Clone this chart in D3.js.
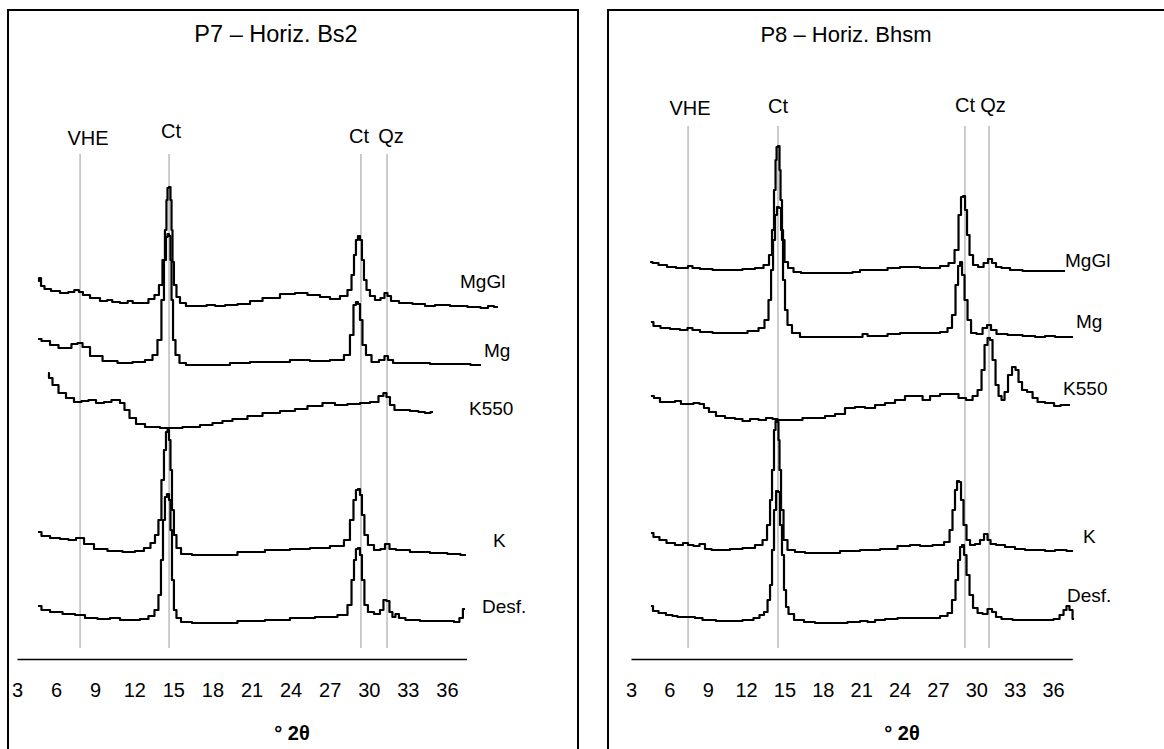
<!DOCTYPE html>
<html>
<head>
<meta charset="utf-8">
<script src="https://cdn.jsdelivr.net/npm/d3@7"></script>
<style>
  body { margin: 0; background: #fff; }
  text { font-family: "Liberation Sans", Arial, sans-serif; fill: #000; }
</style>
</head>
<body>
<div id="chart"></div>
<script>
// 2θ tick labels (same for both diffractograms)
var ticks2theta = [3, 6, 9, 12, 15, 18, 21, 24, 27, 30, 33, 36];
var traceNames = ["MgGl", "Mg", "K550", "K", "Desf."];
var peakNames = ["VHE", "Ct", "Ct", "Qz"];

// P7 - Horiz. Bs2 : [2θ, relative intensity incl. stacking offset]
var p7Peaks = [7.84, 14.67, 29.40, 31.40];
var p7MgGl = [[4.61,75.6],[4.77,76.2],[4.92,74.6],[5.30,74.0],[5.92,73.6],[6.68,73.2],[7.20,73.4],[7.60,73.8],[7.90,73.4],[8.22,72.8],[8.99,72.2],[9.75,71.6],[10.10,71.8],[10.52,71.4],[11.29,71.2],[11.70,71.6],[12.06,71.2],[12.82,71.2],[13.36,72.0],[13.74,72.8],[14.05,74.8],[14.28,79.8],[14.43,85.8],[14.51,91.8],[14.59,94.2],[14.74,94.4],[14.82,91.8],[14.90,85.8],[14.97,79.4],[15.12,74.8],[15.36,72.4],[15.66,71.2],[16.28,70.6],[17.30,70.6],[17.81,70.8],[18.60,70.6],[19.35,70.8],[20.50,71.0],[21.27,71.6],[22.42,72.2],[23.95,73.0],[24.72,73.2],[25.87,72.8],[26.64,72.4],[27.41,72.0],[28.17,72.6],[28.56,73.8],[28.79,76.8],[28.94,80.8],[29.09,83.8],[29.25,84.6],[29.40,83.8],[29.55,79.8],[29.71,75.8],[29.94,73.8],[30.24,72.6],[30.71,71.8],[31.09,72.2],[31.32,73.2],[31.55,72.6],[31.86,71.6],[32.78,71.2],[33.93,71.0],[34.70,70.6],[35.46,70.8],[37.00,70.6],[38.15,70.4],[39.00,70.2],[39.30,70.6],[39.91,70.4]];
var p7Mg = [[4.61,64.0],[5.15,63.6],[5.92,62.8],[6.45,62.2],[6.91,62.2],[7.45,63.0],[7.84,63.2],[8.22,62.4],[8.99,60.6],[10.14,59.6],[11.29,59.2],[12.44,59.4],[13.21,59.8],[13.59,60.8],[13.97,63.8],[14.20,71.8],[14.36,79.8],[14.51,84.4],[14.59,85.0],[14.74,84.6],[14.82,79.8],[14.90,71.8],[15.05,63.8],[15.28,60.8],[15.66,59.2],[16.28,58.8],[18.58,58.8],[20.11,59.2],[21.65,59.4],[23.18,59.4],[24.72,59.8],[26.25,59.6],[27.79,59.8],[28.40,60.8],[28.71,64.8],[28.94,70.8],[29.09,71.4],[29.25,71.0],[29.40,67.8],[29.63,62.8],[29.94,60.8],[30.48,59.4],[31.09,59.8],[31.32,60.6],[31.63,59.8],[32.09,59.2],[33.93,59.2],[35.46,59.0],[37.00,59.0],[38.61,58.8]];
var p7K550 = [[5.38,57.2],[5.53,56.2],[5.92,54.8],[6.45,53.2],[7.07,52.2],[7.68,51.4],[8.22,51.6],[8.76,51.8],[9.37,51.2],[9.98,51.4],[10.52,51.8],[10.75,51.8],[11.06,51.2],[11.44,49.8],[11.83,48.2],[12.44,47.0],[13.21,46.4],[14.74,46.2],[16.66,46.4],[17.43,46.8],[18.58,47.2],[18.96,47.6],[20.11,48.0],[21.27,48.6],[22.42,49.2],[23.95,49.6],[24.72,50.0],[25.87,50.6],[27.02,51.2],[27.79,50.8],[28.94,51.0],[29.71,51.2],[30.48,51.4],[31.01,52.6],[31.24,53.2],[31.47,52.4],[31.78,50.8],[32.16,49.8],[32.78,49.8],[33.54,49.6],[34.08,49.4],[34.54,49.2],[34.93,49.4]];
var p7K = [[4.61,25.4],[5.15,24.6],[5.92,24.2],[6.68,24.0],[7.22,23.8],[7.84,24.2],[8.45,23.0],[9.37,22.0],[10.52,21.6],[11.67,21.4],[12.44,21.6],[13.05,22.2],[13.44,23.2],[13.74,24.8],[13.97,27.8],[14.20,35.8],[14.36,41.8],[14.51,45.4],[14.59,45.8],[14.74,43.8],[14.82,37.8],[14.97,29.8],[15.12,24.8],[15.36,22.2],[15.82,21.0],[17.04,20.8],[18.96,20.8],[20.88,21.4],[23.18,21.8],[24.72,22.0],[26.25,22.2],[27.79,22.6],[28.40,23.8],[28.71,27.8],[28.94,31.8],[29.09,33.8],[29.25,34.0],[29.40,32.8],[29.55,28.8],[29.78,24.8],[30.09,22.8],[30.71,21.8],[31.09,22.0],[31.40,23.0],[31.78,22.0],[32.39,21.8],[33.93,21.4],[35.46,21.2],[36.61,21.0],[37.46,20.8]];
var p7Desf = [[4.61,10.6],[5.15,9.8],[5.92,9.4],[7.07,9.0],[7.84,8.8],[8.60,8.2],[9.75,8.0],[10.52,8.2],[11.29,7.8],[12.06,7.8],[12.82,8.0],[13.36,8.6],[13.74,9.8],[13.97,12.8],[14.13,19.8],[14.28,27.8],[14.43,32.4],[14.59,33.0],[14.74,31.8],[14.82,25.8],[14.97,15.8],[15.12,9.8],[15.36,8.2],[15.82,7.4],[17.04,7.2],[18.96,7.2],[20.88,7.6],[23.18,7.8],[24.72,8.2],[27.02,8.4],[28.17,8.8],[28.56,10.8],[28.79,15.8],[28.94,19.8],[29.09,22.0],[29.25,22.2],[29.40,20.8],[29.55,15.8],[29.78,10.8],[30.09,9.4],[30.71,9.0],[31.01,9.8],[31.24,11.8],[31.47,11.6],[31.70,9.4],[31.93,8.4],[32.16,9.0],[32.47,8.2],[33.16,7.8],[34.70,7.6],[36.23,7.6],[36.84,7.4],[37.07,8.2],[37.38,10.0]];

// P8 - Horiz. Bhsm
var p8Peaks = [7.46, 14.49, 29.11, 30.99];
var p8MgGl = [[4.49,79.4],[4.88,79.2],[5.42,78.8],[6.21,78.4],[6.83,78.2],[7.30,78.2],[7.61,78.6],[8.00,78.2],[8.79,78.0],[9.96,77.8],[11.13,77.8],[12.30,78.0],[13.09,78.2],[13.63,78.8],[13.95,80.8],[14.10,85.8],[14.26,93.8],[14.34,99.8],[14.42,102.4],[14.57,102.6],[14.65,97.8],[14.73,91.8],[14.88,83.8],[15.12,79.4],[15.43,78.2],[15.98,77.4],[16.60,77.2],[18.56,77.2],[20.12,77.2],[20.51,77.4],[21.30,77.8],[22.47,77.8],[23.64,78.2],[24.42,78.4],[25.21,78.4],[25.99,78.2],[26.77,78.2],[27.55,78.6],[28.10,79.2],[28.49,81.8],[28.72,88.8],[28.88,92.4],[29.04,92.6],[29.19,89.8],[29.35,84.8],[29.58,80.8],[29.90,78.8],[30.37,78.4],[30.76,79.2],[31.07,80.0],[31.38,79.2],[31.69,78.4],[32.24,78.2],[33.02,77.8],[34.20,77.6],[35.76,77.6],[36.93,77.6]];
var p8Mg = [[4.56,67.4],[4.95,66.6],[5.66,66.2],[6.44,66.0],[7.22,65.8],[7.61,66.2],[8.00,65.8],[8.79,65.4],[9.96,65.2],[11.52,65.2],[12.70,65.6],[13.24,66.2],[13.63,67.8],[13.87,71.8],[14.03,77.8],[14.18,83.8],[14.34,88.8],[14.49,90.4],[14.65,90.2],[14.81,85.8],[14.96,75.8],[15.12,69.8],[15.35,66.8],[15.82,65.2],[16.60,64.4],[18.17,64.4],[20.90,64.4],[21.30,65.0],[21.69,64.6],[22.47,64.6],[23.64,65.0],[24.42,65.2],[25.60,65.2],[26.77,65.2],[27.55,65.4],[27.94,66.2],[28.25,68.8],[28.49,74.8],[28.65,78.6],[28.80,79.4],[28.96,76.8],[29.19,71.8],[29.43,67.8],[29.74,65.2],[30.29,65.0],[30.68,66.2],[30.99,66.8],[31.30,65.8],[31.85,65.0],[33.02,64.8],[34.20,64.6],[34.98,64.4],[35.76,64.6],[36.54,64.4],[37.56,64.4]];
var p8K550 = [[4.56,52.6],[5.03,52.2],[5.50,51.4],[6.21,51.4],[6.67,51.6],[7.14,51.0],[7.61,51.0],[8.16,51.2],[8.55,51.0],[8.86,50.2],[9.33,49.4],[9.96,48.6],[10.74,48.2],[11.52,48.0],[11.91,47.6],[12.70,48.0],[13.24,47.8],[13.87,48.2],[14.26,48.0],[14.65,47.8],[15.82,47.8],[16.99,48.2],[17.78,48.2],[18.56,48.6],[19.34,49.0],[20.12,50.2],[20.90,50.4],[21.69,50.2],[22.47,50.8],[23.25,51.2],[24.03,51.8],[24.81,52.6],[25.60,52.6],[25.99,51.8],[26.77,52.6],[27.55,53.0],[28.33,53.0],[28.88,52.2],[29.51,51.8],[29.90,52.6],[30.29,53.8],[30.52,57.8],[30.76,62.8],[30.99,64.2],[31.15,63.8],[31.38,59.8],[31.62,54.8],[31.85,52.6],[32.09,51.8],[32.32,53.4],[32.63,56.8],[32.95,58.4],[33.18,57.8],[33.41,55.4],[33.73,53.8],[34.20,53.4],[34.59,52.2],[34.98,51.4],[35.76,51.2],[36.39,50.6],[36.78,50.8],[37.32,50.8]];
var p8K = [[4.56,25.2],[4.95,24.4],[5.50,23.8],[6.05,23.2],[6.83,22.8],[7.30,23.2],[7.61,22.8],[8.16,22.6],[8.55,23.0],[9.02,22.0],[9.57,21.8],[10.35,21.8],[11.13,22.0],[12.30,22.2],[13.09,22.8],[13.48,23.8],[13.79,26.8],[13.95,31.8],[14.10,37.8],[14.26,45.8],[14.34,47.6],[14.49,47.4],[14.57,43.8],[14.65,37.8],[14.81,29.8],[15.04,23.8],[15.43,21.8],[16.21,21.4],[17.00,21.2],[18.56,21.2],[20.12,21.6],[21.69,21.8],[23.25,22.0],[24.42,22.6],[25.21,22.8],[25.99,22.6],[27.16,22.8],[27.79,23.4],[28.02,25.8],[28.25,29.8],[28.41,33.8],[28.57,35.6],[28.72,35.4],[28.88,31.8],[29.11,26.8],[29.35,23.8],[29.66,22.8],[30.13,23.0],[30.44,23.8],[30.76,25.0],[30.99,23.8],[31.23,23.0],[31.85,22.8],[32.63,22.4],[33.41,22.0],[34.20,21.8],[34.98,21.8],[35.76,21.6],[36.54,21.8],[37.56,21.6]];
var p8Desf = [[4.56,10.6],[4.88,9.6],[5.42,9.2],[6.05,8.8],[6.44,8.6],[6.83,8.4],[7.61,8.4],[8.39,8.2],[8.79,7.8],[9.33,7.8],[9.96,7.6],[11.13,7.6],[12.30,7.8],[12.85,8.2],[13.24,8.8],[13.56,9.4],[13.79,11.8],[13.95,14.8],[14.10,21.8],[14.26,29.8],[14.42,33.6],[14.57,33.4],[14.73,26.8],[14.88,20.8],[15.04,13.8],[15.20,10.4],[15.43,9.0],[16.06,7.8],[16.99,7.4],[17.78,7.2],[19.34,7.2],[20.51,7.4],[21.30,7.6],[21.69,7.4],[22.47,7.8],[23.25,8.0],[24.42,8.2],[25.60,8.2],[26.77,8.2],[27.55,8.6],[27.94,9.2],[28.25,11.8],[28.49,15.8],[28.65,19.8],[28.80,22.4],[28.96,22.8],[29.11,20.8],[29.35,16.8],[29.58,12.8],[29.90,10.2],[30.29,9.2],[30.68,9.0],[31.07,10.0],[31.38,9.4],[31.69,8.4],[32.24,8.0],[33.41,7.8],[34.59,7.8],[35.76,7.8],[36.31,8.0],[36.70,8.8],[36.93,9.8],[37.16,10.6],[37.40,9.8],[37.64,8.0]];

var width = 1164, height = 749;
var axisY = 659;

var svg = d3.select("#chart").append("svg")
  .attr("width", width)
  .attr("height", height)
  .style("display", "block");

svg.append("rect").attr("width", width).attr("height", height).attr("fill", "#fff");

// intensity scale shared by both panels
var y = d3.scaleLinear().domain([0, 120]).range([axisY, 59]);

function drawPanel(p) {
  var x = d3.scaleLinear().domain([3, 37.5]).range(p.xRange);
  var g = svg.append("g");

  // frame
  g.append("rect")
    .attr("x", p.box[0]).attr("y", 10)
    .attr("width", p.box[1]).attr("height", 800)
    .attr("fill", "none").attr("stroke", "#000").attr("stroke-width", 2);

  g.append("text")
    .attr("x", p.titleX).attr("y", 42)
    .attr("text-anchor", "middle")
    .style("font-size", p.titleSize + "px")
    .text(p.title);

  // reference lines for the minerals
  g.selectAll(".ref").data(p.peaks).enter().append("line")
    .attr("class", "ref")
    .attr("x1", function (d) { return x(d); })
    .attr("x2", function (d) { return x(d); })
    .attr("y1", p.refTop).attr("y2", 648)
    .attr("stroke", "#999").attr("stroke-width", 1);

  g.selectAll(".refl").data(p.peaks).enter().append("text")
    .attr("class", "refl")
    .attr("x", function (d, i) { return x(d) + p.refDx[i]; })
    .attr("y", function (d, i) { return p.refTop - p.refDy[i]; })
    .attr("text-anchor", "middle")
    .style("font-size", "20px")
    .text(function (d, i) { return peakNames[i]; });

  // digitised diffractograms look stepped
  var line = d3.line()
    .curve(d3.curveStep)
    .x(function (d) { return x(d[0]); })
    .y(function (d) { return y(d[1]); });

  g.selectAll(".trace").data(p.traces).enter().append("path")
    .attr("class", "trace")
    .attr("d", line)
    .attr("fill", "none")
    .attr("stroke", "#000")
    .attr("stroke-width", 2.2)
    .attr("stroke-linejoin", "round");

  g.selectAll(".tname").data(p.labels).enter().append("text")
    .attr("class", "tname")
    .attr("x", function (d) { return x(d[0]); })
    .attr("y", function (d) { return y(d[1]); })
    .style("font-size", "19px")
    .text(function (d, i) { return traceNames[i]; });

  var axis = d3.axisBottom(x)
    .tickValues(ticks2theta)
    .tickSize(0)
    .tickSizeOuter(0)
    .tickPadding(24)
    .tickFormat(d3.format("d"));

  var ax = g.append("g")
    .attr("transform", "translate(0," + axisY + ")")
    .call(axis);
  ax.select(".domain").attr("stroke", "#000").attr("stroke-width", 1.3);
  ax.selectAll("text")
    .style("font-size", "20px")
    .style("font-family", "'Liberation Sans', Arial, sans-serif")
    .attr("fill", "#000");

  g.append("text")
    .attr("x", p.axisTitleX).attr("y", 740)
    .attr("text-anchor", "middle")
    .style("font-size", "20px")
    .style("font-weight", "bold")
    .text("° 2θ");
}

drawPanel({
  title: "P7 – Horiz. Bs2",
  titleSize: 23.5,
  titleX: 276,
  axisTitleX: 292,
  box: [8, 570],
  xRange: [17, 466.5],
  peaks: p7Peaks,
  refTop: 154,
  refDx: [8, 2, -2, 4],
  refDy: [9, 16, 11, 11],
  traces: [p7MgGl, p7Mg, p7K550, p7K, p7Desf],
  labels: [[37.0, 74.2], [38.84, 60.4], [37.69, 48.8], [39.53, 22.4], [38.69, 9.2]]
});

drawPanel({
  title: "P8 – Horiz. Bhsm",
  titleSize: 22,
  titleX: 846,
  axisTitleX: 902,
  box: [608, 600],
  xRange: [631, 1072.3],
  peaks: p8Peaks,
  refTop: 126,
  refDx: [2, 0, 0, 4],
  refDy: [11, 13, 14, 14],
  traces: [p8MgGl, p8Mg, p8K550, p8K, p8Desf],
  labels: [[36.93, 78.4], [37.79, 66.2], [36.78, 52.8], [38.34, 23.2], [37.09, 11.4]]
});
</script>
</body>
</html>
